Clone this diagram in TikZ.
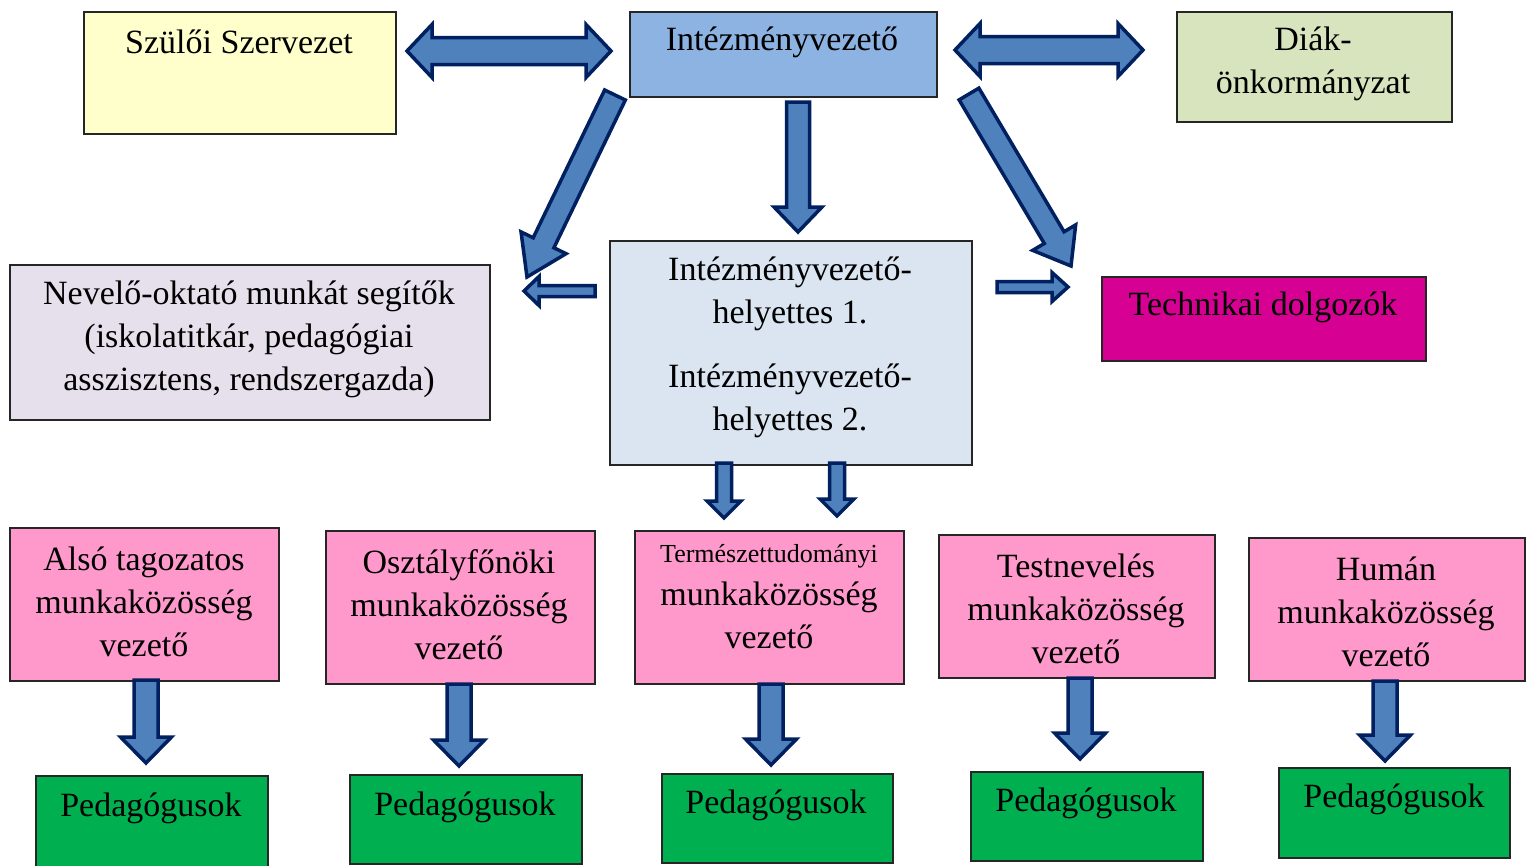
\documentclass[tikz,border=0pt]{standalone}
\usepackage{fontspec}
\setmainfont{Liberation Serif}
\usetikzlibrary{calc}
\definecolor{cyellow}{HTML}{FFFFCC}
\definecolor{cblue}{HTML}{8DB3E2}
\definecolor{cgreenl}{HTML}{D7E4BD}
\definecolor{clav}{HTML}{E5E0EC}
\definecolor{ccenter}{HTML}{DBE5F1}
\definecolor{cmag}{HTML}{D60093}
\definecolor{cpink}{HTML}{FF99CC}
\definecolor{cgreen}{HTML}{00B050}
\definecolor{carrow}{HTML}{4F81BD}
\definecolor{cnavy}{HTML}{002060}
\tikzset{
  box/.style={draw=black!85, line width=1.5pt, anchor=north west, inner sep=0pt},
  txt/.style={align=center, inner sep=0pt, font=\fontsize{34}{43}\selectfont},
  barr/.style={draw=cnavy, fill=carrow, line width=3.5pt, line join=miter}
}
% name, tail, tip, shaft half width, head half width, head length
\newcommand{\blockarrow}[6]{%
  \coordinate (#1-h) at ($(#3)!#6!(#2)$);
  \draw[barr] ($(#2)!#4!90:(#3)$) -- ($(#1-h)!#4!90:(#3)$) -- ($(#1-h)!#5!90:(#3)$) -- (#3)
    -- ($(#1-h)!#5!-90:(#3)$) -- ($(#1-h)!#4!-90:(#3)$) -- ($(#2)!#4!-90:(#3)$) -- cycle;}
% name, tip A, tip B, shaft half, head half, head length
\newcommand{\dblarrow}[6]{%
  \coordinate (#1-ha) at ($(#2)!#6!(#3)$);
  \coordinate (#1-hb) at ($(#3)!#6!(#2)$);
  \draw[barr] (#2) -- ($(#1-ha)!#5!90:(#3)$) -- ($(#1-ha)!#4!90:(#3)$) -- ($(#1-hb)!#4!90:(#3)$)
    -- ($(#1-hb)!#5!90:(#3)$) -- (#3) -- ($(#1-hb)!#5!-90:(#3)$) -- ($(#1-hb)!#4!-90:(#3)$)
    -- ($(#1-ha)!#4!-90:(#3)$) -- ($(#1-ha)!#5!-90:(#3)$) -- cycle;}
\begin{document}
\begin{tikzpicture}[x=1pt,y=-1pt]
\useasboundingbox[fill=white] (0,0) rectangle (1530,865);
% boxes
\node[box, fill=cyellow, minimum width=312pt, minimum height=122pt] (szulo) at (83,11) {};
\node[box, fill=cblue, minimum width=307pt, minimum height=85pt] (igazg) at (629,11) {};
\node[box, fill=cgreenl, minimum width=275pt, minimum height=110pt] (diak) at (1176,11) {};
\node[box, fill=clav, minimum width=480pt, minimum height=155pt] (nevelo) at (9,264) {};
\node[box, fill=ccenter, minimum width=362pt, minimum height=224pt] (helyettes) at (609,240) {};
\node[box, fill=cmag, minimum width=324pt, minimum height=84pt] (techn) at (1101,276) {};
\node[box, fill=cpink, minimum width=269pt, minimum height=153pt] (mk1) at (9,527) {};
\node[box, fill=cpink, minimum width=269pt, minimum height=153pt] (mk2) at (325,530) {};
\node[box, fill=cpink, minimum width=269pt, minimum height=153pt] (mk3) at (634,530) {};
\node[box, fill=cpink, minimum width=276pt, minimum height=143pt] (mk4) at (938,534) {};
\node[box, fill=cpink, minimum width=276pt, minimum height=143pt] (mk5) at (1248,537) {};
\node[box, fill=cgreen, minimum width=232pt, minimum height=94pt] (ped1) at (35,775) {};
\node[box, fill=cgreen, minimum width=232pt, minimum height=89pt] (ped2) at (349,774) {};
\node[box, fill=cgreen, minimum width=231pt, minimum height=89pt] (ped3) at (661,773) {};
\node[box, fill=cgreen, minimum width=232pt, minimum height=89pt] (ped4) at (970,771) {};
\node[box, fill=cgreen, minimum width=231pt, minimum height=90pt] (ped5) at (1278,767) {};
% texts
\node[txt] (t-szulo) at (239,42) {Szülői Szervezet};
\node[txt] (t-igazg) at (782,42) {Intézményvezető};
\node[txt] (t-diak) at (1313,64) {Diák-\\önkormányzat};
\node[txt] (t-nevelo) at (249,339) {Nevelő-oktató munkát segítők\\(iskolatitkár, pedagógiai\\asszisztens, rendszergazda)};
\node[txt] (t-hely) at (790,347) {Intézményvezető-\\helyettes 1.\\[21pt]Intézményvezető-\\helyettes 2.};
\node[txt] (t-techn) at (1263,307) {Technikai dolgozók};
\node[txt] (t-mk1) at (144,602) {Alsó tagozatos\\munkaközösség\\vezető};
\node[txt] (t-mk2) at (459,605) {Osztályfőnöki\\munkaközösség\\vezető};
\node[txt, font=\fontsize{26}{30}\selectfont] (t-mk3a) at (769,556) {Természettudományi};
\node[txt] (t-mk3) at (769,615) {munkaközösség\\vezető};
\node[txt] (t-mk4) at (1076,609) {Testnevelés\\munkaközösség\\vezető};
\node[txt] (t-mk5) at (1386,612) {Humán\\munkaközösség\\vezető};
\node[txt] (t-ped1) at (151,808) {Pedagógusok};
\node[txt] (t-ped2) at (465,807) {Pedagógusok};
\node[txt] (t-ped3) at (776,805) {Pedagógusok};
\node[txt] (t-ped4) at (1086,803) {Pedagógusok};
\node[txt] (t-ped5) at (1394,799) {Pedagógusok};
% arrow end points
\coordinate (dlA) at (407,51); \coordinate (dlB) at (611,51);
\coordinate (drA) at (955,50); \coordinate (drB) at (1143,50);
\coordinate (agL0) at (615,95); \coordinate (agL1) at (527,277);
\coordinate (agC0) at (798,102); \coordinate (agC1) at (798,232);
\coordinate (agR0) at (969,94); \coordinate (agR1) at (1071,266);
\coordinate (sl0) at (595,291); \coordinate (sl1) at (524,291);
\coordinate (sr0) at (997,287); \coordinate (sr1) at (1068,287);
\coordinate (sd10) at (724,463); \coordinate (sd11) at (724,518);
\coordinate (sd20) at (837,463); \coordinate (sd21) at (837,516);
\coordinate (bd10) at (146,680); \coordinate (bd11) at (146,763);
\coordinate (bd20) at (459,684); \coordinate (bd21) at (459,766);
\coordinate (bd30) at (771,684); \coordinate (bd31) at (771,765);
\coordinate (bd40) at (1080,678); \coordinate (bd41) at (1080,759);
\coordinate (bd50) at (1385,681); \coordinate (bd51) at (1385,761);
% arrows
\dblarrow{dl}{dlA}{dlB}{13.5pt}{26.5pt}{25pt}
\dblarrow{dr}{drA}{drB}{13.5pt}{26.5pt}{25pt}
\blockarrow{agL}{agL0}{agL1}{11.5pt}{25pt}{38pt}
\blockarrow{agC}{agC0}{agC1}{11.5pt}{24pt}{25pt}
\blockarrow{agR}{agR0}{agR1}{11.5pt}{25pt}{33pt}
\blockarrow{sl}{sl0}{sl1}{5.5pt}{14.5pt}{15pt}
\blockarrow{sr}{sr0}{sr1}{5.5pt}{14.5pt}{16pt}
\blockarrow{sd1}{sd10}{sd11}{7.5pt}{17pt}{17pt}
\blockarrow{sd2}{sd20}{sd21}{7.5pt}{17pt}{17pt}
\blockarrow{bd1}{bd10}{bd11}{12pt}{25.5pt}{26pt}
\blockarrow{bd2}{bd20}{bd21}{12pt}{25.5pt}{26pt}
\blockarrow{bd3}{bd30}{bd31}{12pt}{25.5pt}{26pt}
\blockarrow{bd4}{bd40}{bd41}{12pt}{25.5pt}{26pt}
\blockarrow{bd5}{bd50}{bd51}{12pt}{25.5pt}{26pt}
\end{tikzpicture}
\end{document}
